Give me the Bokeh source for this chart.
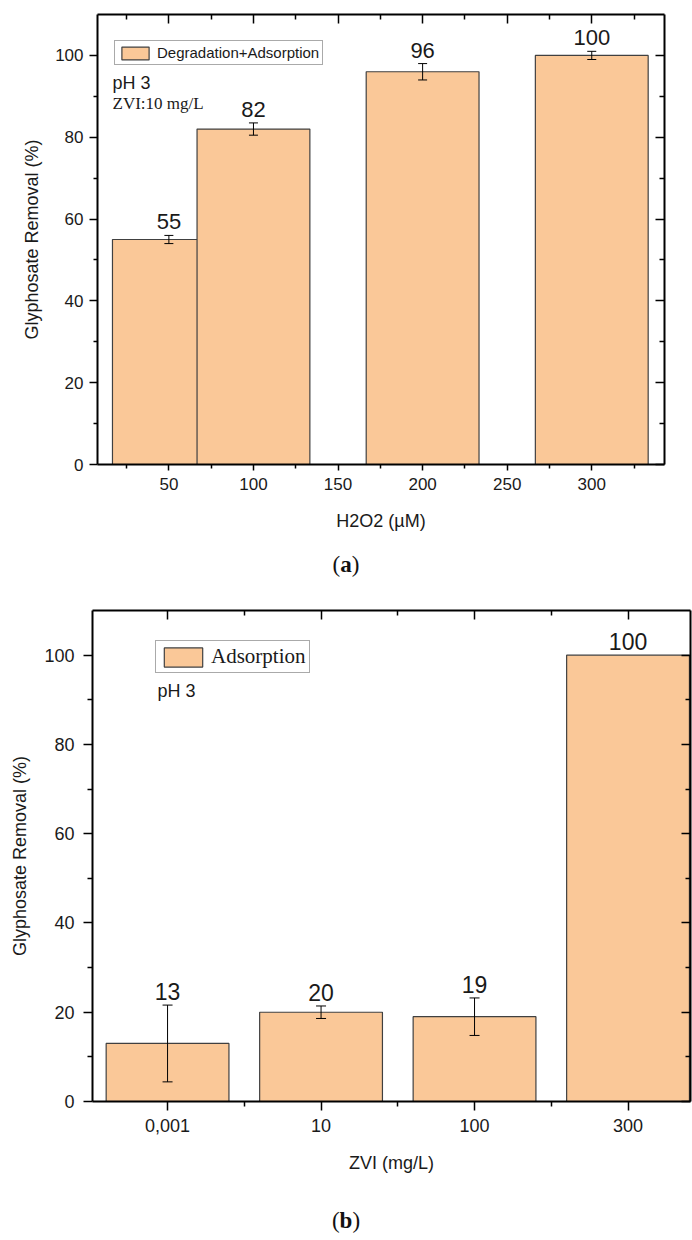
from bokeh.plotting import figure
from bokeh.models import (Range1d, LinearAxis, FixedTicker, Whisker, ColumnDataSource,
                          Legend, LegendItem, Label, Div, TeeHead, CustomLabelingPolicy)
from bokeh.layouts import column
from bokeh.embed import file_html
from bokeh.resources import INLINE
from bokeh.core.properties import value

# ---------------- data: panel (a) ----------------
h2o2_doses = [50, 100, 200, 300]
removal_a = [55, 82, 96, 100]
err_a = [1.0, 1.5, 2.0, 1.0]
labels_a = ["55", "82", "96", "100"]
xticks_a = [50, 100, 150, 200, 250, 300]
xminor_a = [25, 75, 125, 175, 225, 275, 325]

# ---------------- data: panel (b) ----------------
zvi_categories = ["0,001", "10", "100", "300"]
removal_b = [13, 20, 19, 100]
err_b = [8.6, 1.4, 4.2, 0.0]
labels_b = ["13", "20", "19", "100"]

yticks = [0, 20, 40, 60, 80, 100]
yminor = [10, 30, 50, 70, 90]

BAR = "#FAC898"
EDGE = "#404040"
SANS = "Liberation Sans"
SERIF = "Liberation Serif"
TXT = "#1a1a1a"

HIDE_LABELS = "for (const i of Array.from(indices)) { indices.unset(i) }\nreturn indices"


def style_axis(ax, tick_out=8, minor_out=4, standoff=6, font="17px"):
    ax.axis_line_color = "black"
    ax.axis_line_width = 2
    ax.major_tick_line_color = "black"
    ax.minor_tick_line_color = "black"
    ax.major_tick_line_width = 1.5
    ax.minor_tick_line_width = 1.5
    ax.major_tick_in = 0
    ax.major_tick_out = tick_out
    ax.minor_tick_in = 0
    ax.minor_tick_out = minor_out
    ax.major_label_text_font = SANS
    ax.major_label_text_font_size = font
    ax.major_label_text_color = TXT
    ax.major_label_standoff = standoff
    ax.axis_label_text_font = SANS
    ax.axis_label_text_font_size = "18px"
    ax.axis_label_text_font_style = "normal"
    ax.axis_label_text_color = TXT


def mirror_axis(ax):
    ax.axis_line_color = "black"
    ax.axis_line_width = 2
    ax.major_tick_line_color = "black"
    ax.minor_tick_line_color = "black"
    ax.major_tick_line_width = 1.5
    ax.minor_tick_line_width = 1.5
    ax.major_tick_in = 9
    ax.major_tick_out = 0
    ax.minor_tick_in = 5
    ax.minor_tick_out = 0
    ax.major_label_text_font_size = "0px"
    ax.major_label_standoff = 0
    ax.major_label_policy = CustomLabelingPolicy(code=HIDE_LABELS)
    ax.axis_label = None


def make_whisker(xs, vals, errs, head):
    xx = [x for x, e in zip(xs, errs) if e > 0]
    up = [v + e for v, e in zip(vals, errs) if e > 0]
    lo = [v - e for v, e in zip(vals, errs) if e > 0]
    src = ColumnDataSource(dict(x=xx, upper=up, lower=lo))
    return Whisker(base="x", upper="upper", lower="lower", source=src,
                   line_color="black", line_width=1, level="annotation",
                   upper_head=TeeHead(size=head, line_color="black", line_width=1),
                   lower_head=TeeHead(size=head, line_color="black", line_width=1))


# ================= panel (a) =================
p1 = figure(width=692, height=548, x_range=Range1d(7.8, 343), y_range=Range1d(0, 110),
            output_backend="svg", toolbar_location=None,
            min_border_left=97, min_border_right=28, min_border_top=14, min_border_bottom=84)
p1.frame_align = False
p1.xgrid.visible = False
p1.ygrid.visible = False
p1.outline_line_color = None

src_a = ColumnDataSource(dict(x=h2o2_doses, top=removal_a,
                              lab_y=[v + e for v, e in zip(removal_a, err_a)], lab=labels_a))
bars_a = p1.vbar(x="x", top="top", width=66.7, bottom=0, source=src_a,
                 fill_color=BAR, line_color=EDGE, line_width=1.2)
p1.add_layout(make_whisker(h2o2_doses, removal_a, err_a, 9))
p1.text(x="x", y="lab_y", text="lab", source=src_a, text_align="center",
        text_baseline="bottom", y_offset=-6, text_font=value(SANS),
        text_font_size="22px", text_color=TXT)

p1.xaxis.ticker = FixedTicker(ticks=xticks_a, minor_ticks=xminor_a)
p1.yaxis.ticker = FixedTicker(ticks=yticks, minor_ticks=yminor)
p1.xaxis.axis_label = "H2O2 (µM)"
p1.yaxis.axis_label = "Glyphosate Removal (%)"
style_axis(p1.xaxis[0], tick_out=6, minor_out=4, standoff=7, font="17px")
style_axis(p1.yaxis[0], tick_out=8, minor_out=4, standoff=6, font="17px")
p1.xaxis.axis_label_standoff = 18
p1.yaxis.axis_label_standoff = 10

top_a = LinearAxis(ticker=FixedTicker(ticks=xticks_a, minor_ticks=xminor_a))
mirror_axis(top_a)
p1.add_layout(top_a, "above")
right_a = LinearAxis(ticker=FixedTicker(ticks=yticks, minor_ticks=yminor))
mirror_axis(right_a)
p1.add_layout(right_a, "right")

leg_a = Legend(items=[LegendItem(label="Degradation+Adsorption", renderers=[bars_a])],
               location=(17, 399))
leg_a.label_text_font = SANS
leg_a.label_text_font_size = "15px"
leg_a.label_text_color = TXT
leg_a.glyph_width = 34
leg_a.glyph_height = 16
leg_a.label_height = 16
leg_a.label_standoff = 5
leg_a.padding = 3
leg_a.margin = 0
leg_a.spacing = 0
leg_a.border_line_color = "#555555"
leg_a.border_line_width = 1.5
p1.add_layout(leg_a)

p1.add_layout(Label(x=15, y=382, x_units="screen", y_units="screen", text="pH 3",
                    text_font=SANS, text_font_size="18px", text_baseline="middle",
                    text_color=TXT))
p1.add_layout(Label(x=15, y=361, x_units="screen", y_units="screen", text="ZVI:10 mg/L",
                    text_font=SERIF, text_font_size="17px", text_baseline="middle",
                    text_color=TXT))

cap_a = Div(text='<div style="width:692px;text-align:center;font-family:\'Liberation Serif\';'
                 'font-size:23px;line-height:34px;color:#111">(<b>a</b>)</div>',
            width=692, height=42, margin=0)

# ================= panel (b) =================
xb = list(range(len(zvi_categories)))
p2 = figure(width=692, height=590, x_range=Range1d(-0.489, 3.407), y_range=Range1d(0, 110),
            output_backend="svg", toolbar_location=None,
            min_border_left=92, min_border_right=2, min_border_top=20, min_border_bottom=79)
p2.frame_align = False
p2.xgrid.visible = False
p2.ygrid.visible = False
p2.outline_line_color = None

src_b = ColumnDataSource(dict(x=xb, top=removal_b,
                              lab_y=[v + e for v, e in zip(removal_b, err_b)], lab=labels_b))
bars_b = p2.vbar(x="x", top="top", width=0.8, bottom=0, source=src_b,
                 fill_color=BAR, line_color=EDGE, line_width=1.2)
p2.add_layout(make_whisker(xb, removal_b, err_b, 10))
p2.text(x="x", y="lab_y", text="lab", source=src_b, text_align="center",
        text_baseline="bottom", y_offset=-5, text_font=value(SANS),
        text_font_size="23px", text_color=TXT)

xminor_b = [i + 0.5 for i in xb[:-1]]
p2.xaxis.ticker = FixedTicker(ticks=xb, minor_ticks=xminor_b)
p2.xaxis.major_label_overrides = {i: c for i, c in zip(xb, zvi_categories)}
p2.yaxis.ticker = FixedTicker(ticks=yticks, minor_ticks=yminor)
p2.xaxis.axis_label = "ZVI (mg/L)"
p2.yaxis.axis_label = "Glyphosate Removal (%)"
style_axis(p2.xaxis[0], tick_out=9, minor_out=5, standoff=8, font="18px")
style_axis(p2.yaxis[0], tick_out=9, minor_out=5, standoff=9, font="18px")
p2.xaxis.axis_label_standoff = 18
p2.yaxis.axis_label_standoff = 11

top_b = LinearAxis(ticker=FixedTicker(ticks=xb, minor_ticks=xminor_b))
mirror_axis(top_b)
p2.add_layout(top_b, "above")
right_b = LinearAxis(ticker=FixedTicker(ticks=yticks, minor_ticks=yminor))
mirror_axis(right_b)
p2.add_layout(right_b, "right")

leg_b = Legend(items=[LegendItem(label="Adsorption", renderers=[bars_b])],
               location=(63, 428))
leg_b.label_text_font = SERIF
leg_b.label_text_font_size = "21px"
leg_b.label_text_color = TXT
leg_b.glyph_width = 48
leg_b.glyph_height = 24
leg_b.label_height = 24
leg_b.label_standoff = 4
leg_b.padding = 3
leg_b.margin = 0
leg_b.spacing = 0
leg_b.border_line_color = "#555555"
leg_b.border_line_width = 1.5
p2.add_layout(leg_b)

p2.add_layout(Label(x=65, y=411, x_units="screen", y_units="screen", text="pH 3",
                    text_font=SANS, text_font_size="18px", text_baseline="middle",
                    text_color=TXT))

cap_b = Div(text='<div style="width:692px;text-align:center;font-family:\'Liberation Serif\';'
                 'font-size:23px;line-height:30px;padding-top:26px;color:#111">(<b>b</b>)</div>',
            width=692, height=58, margin=0)

layout = column(p1, cap_a, p2, cap_b, spacing=0)
open("out.html", "w").write(file_html(layout, INLINE))
